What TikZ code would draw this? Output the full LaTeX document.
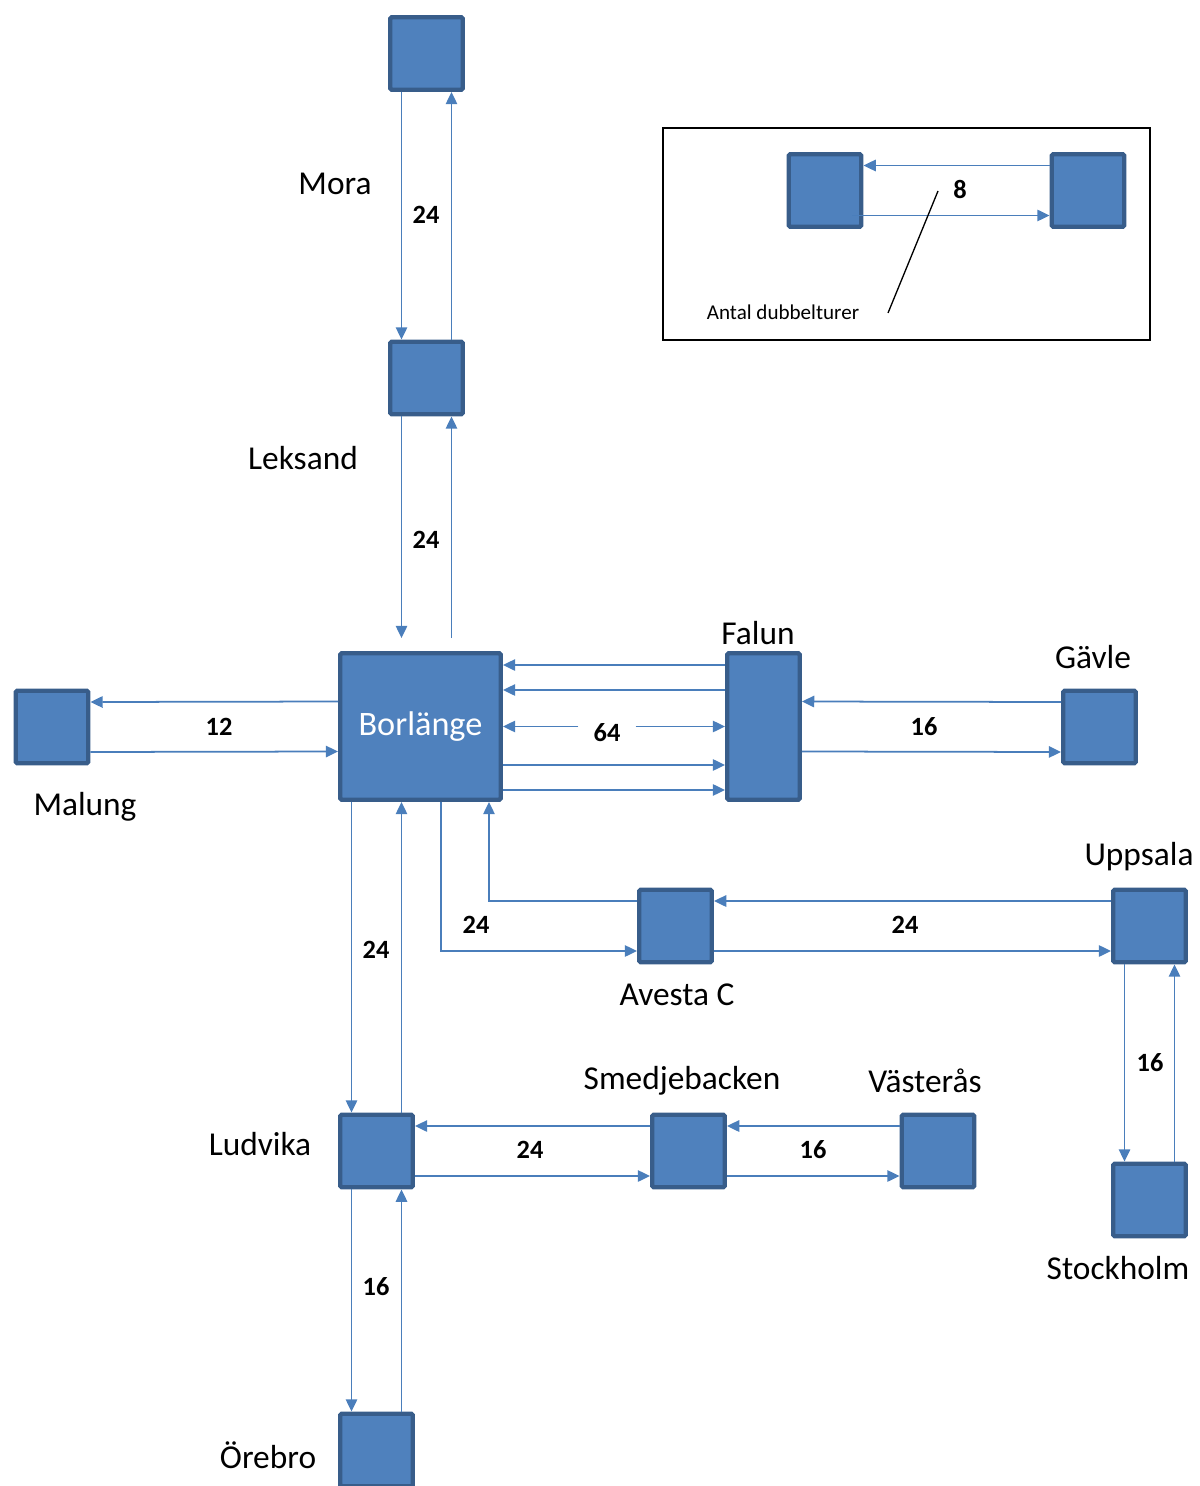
\documentclass[tikz,border=0pt]{standalone}
\usepackage{fontspec}
\setmainfont{Carlito}
\usetikzlibrary{arrows.meta,positioning}
\definecolor{boxfill}{HTML}{4F81BD}
\definecolor{boxline}{HTML}{385D8A}
\definecolor{linkcol}{HTML}{4A7EBB}
\begin{document}
\begin{tikzpicture}[x=0.02cm,y=-0.02cm,
  stn/.style={draw=boxline,fill=boxfill,line width=2.5pt,rounded corners=0.8pt,
    minimum width=1.45cm,minimum height=1.45cm,inner sep=0pt},
  hub/.style={stn,minimum width=3.21cm,minimum height=2.93cm,text=white,
    font=\fontsize{19.5}{22}\selectfont},
  tall/.style={stn,minimum height=2.93cm},
  place/.style={font=\fontsize{19}{22}\selectfont},
  cnt/.style={font=\fontsize{15}{18}\selectfont\bfseries},
  fl/.style={draw=linkcol,line width=1pt,-{Triangle[length=7pt,width=6.5pt]}}]
\useasboundingbox (0,0) rectangle (1199,1486);
% stations
\node [stn] (mor) at (426.5,53.5) {};
\node [stn] (lek) at (426.5,378) {};
\node [hub] (bor) at (420.5,726.5) {Borlänge};
\node [tall] (fal) at (763.5,726.5) {};
\node [stn] (mal) at (52,727) {};
\node [stn] (gav) at (1099.5,727) {};
\node [stn] (ave) at (675.5,926) {};
\node [stn] (upp) at (1149.5,926) {};
\node [stn] (sto) at (1149.5,1200) {};
\node [stn] (lud) at (376.5,1151) {};
\node [stn] (sme) at (688.5,1151) {};
\node [stn] (vas) at (938,1151) {};
\node [stn] (ore) at (376.5,1450) {};
% names
\node [place] at (335,184) {Mora};
\node [place] at (303,458) {Leksand};
\node [place] at (85,807) {Malung};
\node [place] at (758,633) {Falun};
\node [place] at (1093,657) {Gävle};
\node [place] at (1139,857) {Uppsala};
\node [place] at (677,995) {Avesta C};
\node [place] at (1118,1268) {Stockholm};
\node [place] at (682,1081) {Smedjebacken};
\node [place] at (925,1081) {Västerås};
\node [place] at (260,1144) {Ludvika};
\node [place] at (268,1455) {Örebro};
% counts
\node [cnt] at (426,215) {24};
\node [cnt] at (426,540) {24};
\node [cnt] at (219,727) {12};
\node [cnt,inner xsep=0.3cm] (n64) at (607,733) {64};
\node [cnt] at (924,727) {16};
\node [cnt] at (476,925) {24};
\node [cnt] at (905,925) {24};
\node [cnt] at (1150,1063) {16};
\node [cnt] at (376,950) {24};
\node [cnt] at (530,1150) {24};
\node [cnt] at (813,1150) {16};
\node [cnt] at (376,1287) {16};
% links
\draw [fl] ([xshift=-0.5cm]mor.south) -- ([xshift=-0.5cm]lek.north);
\draw [fl] ([xshift=0.5cm]lek.north) -- ([xshift=0.5cm]mor.south);
\draw [fl,shorten >=0.26cm] ([xshift=-0.5cm]lek.south) -- ([xshift=-0.5cm]lek.south |- bor.north);
\draw [fl,shorten <=0.26cm] ([xshift=0.5cm]lek.south |- bor.north) -- ([xshift=0.5cm]lek.south);
\draw [fl] ([yshift=0.5cm]bor.west) -- ([yshift=0.5cm]mal.east);
\draw [fl] ([yshift=-0.5cm]mal.east) -- ([yshift=-0.5cm]bor.west);
\draw [fl] ([yshift=1.23cm]fal.west) -- ([yshift=1.23cm]bor.east);
\draw [fl] ([yshift=0.73cm]fal.west) -- ([yshift=0.73cm]bor.east);
\draw [fl] (n64.west |- bor.east) -- (bor.east);
\draw [fl] (n64.east |- fal.west) -- (fal.west);
\draw [fl] ([yshift=-0.77cm]bor.east) -- ([yshift=-0.77cm]fal.west);
\draw [fl] ([yshift=-1.27cm]bor.east) -- ([yshift=-1.27cm]fal.west);
\draw [fl] ([yshift=0.5cm]gav.west) -- ([yshift=0.5cm]fal.east);
\draw [fl] ([yshift=-0.5cm]fal.east) -- ([yshift=-0.5cm]gav.west);
\draw [fl] ([xshift=0.41cm]bor.south) |- ([yshift=-0.5cm]ave.west);
\draw [fl] ([yshift=0.5cm]ave.west) -| ([xshift=1.37cm]bor.south);
\draw [fl] ([yshift=0.5cm]upp.west) -- ([yshift=0.5cm]ave.east);
\draw [fl] ([yshift=-0.5cm]ave.east) -- ([yshift=-0.5cm]upp.west);
\draw [fl] ([xshift=-0.5cm]upp.south) -- ([xshift=-0.5cm]sto.north);
\draw [fl] ([xshift=0.5cm]sto.north) -- ([xshift=0.5cm]upp.south);
\draw [fl] ([xshift=-0.5cm]lud.north |- bor.south) -- ([xshift=-0.5cm]lud.north);
\draw [fl] ([xshift=0.5cm]lud.north) -- ([xshift=0.5cm]lud.north |- bor.south);
\draw [fl] ([yshift=0.5cm]sme.west) -- ([yshift=0.5cm]lud.east);
\draw [fl] ([yshift=-0.5cm]lud.east) -- ([yshift=-0.5cm]sme.west);
\draw [fl] ([yshift=0.5cm]vas.west) -- ([yshift=0.5cm]sme.east);
\draw [fl] ([yshift=-0.5cm]sme.east) -- ([yshift=-0.5cm]vas.west);
\draw [fl] ([xshift=-0.5cm]lud.south) -- ([xshift=-0.5cm]ore.north);
\draw [fl] ([xshift=0.5cm]ore.north) -- ([xshift=0.5cm]lud.south);
% legend
\draw [line width=0.75pt] (663,128) rectangle (1150,340);
\node [stn] (la) at (825,190.5) {};
\node [stn] (lb) at (1088,190.5) {};
\node [cnt] at (960,190) {8};
\node [font=\fontsize{12}{14}\selectfont] (ant) at (783,312) {Antal dubbelturer};
\coordinate (pa) at (938,191);
\coordinate (pb) at (888,313);
\draw [fl] ([yshift=0.5cm]lb.west) -- ([yshift=0.5cm]la.east);
\draw [fl] ([xshift=-0.22cm,yshift=-0.5cm]la.east) -- ([yshift=-0.5cm]lb.west);
\draw [line width=0.75pt] (pa) -- (pb);
\end{tikzpicture}
\end{document}
